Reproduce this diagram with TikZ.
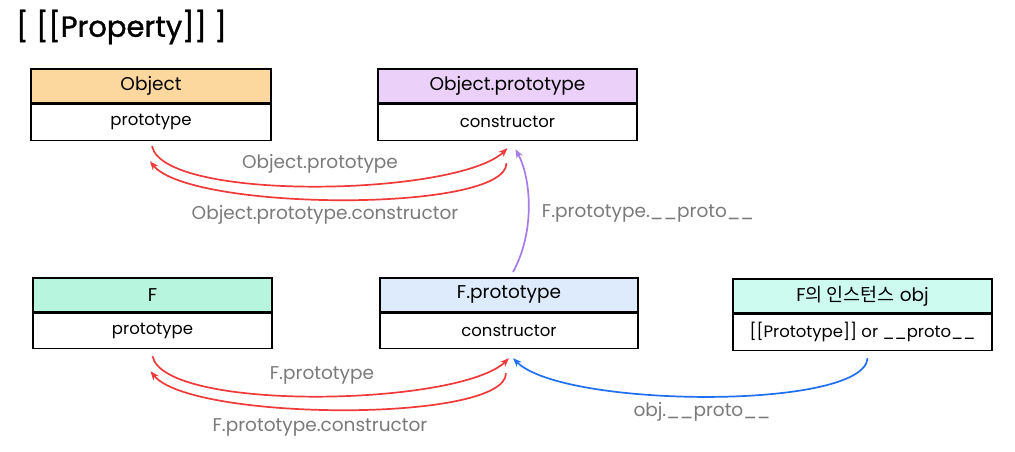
\documentclass[tikz,border=0pt]{standalone}
\usepackage{fontspec}
\setmainfont{Poppins}
\newfontfamily\kr{Noto Sans CJK KR}
\newfontfamily\titlefont[FakeBold=1.2]{Poppins}
\usetikzlibrary{arrows.meta,calc}
\definecolor{cobj}{HTML}{FDD89E}
\definecolor{cop}{HTML}{EBD0FA}
\definecolor{cf}{HTML}{B8F5DE}
\definecolor{cfp}{HTML}{DDEBFD}
\definecolor{cinst}{HTML}{CDFBF0}
\definecolor{cred}{HTML}{F03A3A}
\definecolor{cpur}{HTML}{A77BE8}
\definecolor{cblue}{HTML}{1F6FF0}
\definecolor{cgray}{HTML}{7A7A7A}
\begin{document}
\begin{tikzpicture}[x=1pt,y=-1pt,
  hdr/.style={draw=black,line width=1.6pt,minimum height=34pt,inner sep=0pt,font=\fontsize{18.5}{20}\selectfont,anchor=north},
  bdy/.style={draw=black,line width=1.6pt,fill=white,minimum height=36pt,inner sep=0pt,font=\fontsize{16.5}{18}\selectfont,anchor=north},
  lbl/.style={text=cgray,font=\fontsize{18.5}{20}\selectfont,inner sep=0pt},
  arr/.style={line width=1.7pt,-{Stealth[length=9pt,width=7pt]}}]
\useasboundingbox (0,0) rectangle (1015,451);
\node[inner sep=0pt,font=\titlefont\fontsize{29}{32}\selectfont,anchor=west] (title) at (16,27) {[ [[Property]] ]};
% Object
\node[hdr,fill=cobj,minimum width=240pt] (objh) at (151,68) {Object};
\node[bdy,minimum width=240pt] (objb) at (objh.south) {prototype};
% Object.prototype
\node[hdr,fill=cop,minimum width=259pt] (oph) at (507.5,68) {Object.prototype};
\node[bdy,minimum width=259pt] (opb) at (oph.south) {constructor};
% F
\node[hdr,fill=cf,minimum width=239pt] (fh) at (152.5,277) {F};
\node[bdy,minimum width=239pt,minimum height=35pt] (fb) at (fh.south) {prototype};
% F.prototype
\node[hdr,fill=cfp,minimum width=258pt] (fph) at (509,277) {F.prototype};
\node[bdy,minimum width=258pt,minimum height=35pt] (fpb) at (fph.south) {constructor};
% instance
\node[hdr,fill=cinst,minimum width=259pt] (ih) at (862.5,278) {F{\kr 의 인스턴스} obj};
\node[bdy,minimum width=259pt] (ib) at (ih.south) {[[Prototype]] or \_\_proto\_\_};
% top arcs
\coordinate (a1s) at ($(objb.south)+(1,5)$);
\coordinate (a1e) at ($(opb.south)+(0,7)$);
\coordinate (a2s) at ($(opb.south)+(-1,22)$);
\coordinate (a2e) at ($(objb.south)+(-1,20)$);
\draw[arr,cred] (a1s) .. controls ($(a1s)+(12,56)$) and ($(a1e)+(-50,48)$) .. (a1e);
\draw[arr,cred] (a2s) .. controls ($(a2s)+(0,50)$) and ($(a2e)+(40,50)$) .. (a2e);
\node[lbl] (l1) at (320,164) {Object.prototype};
\node[lbl] (l2) at (325,215) {Object.prototype.constructor};
% purple
\coordinate (ps) at ($(fph.north)+(4,-5)$);
\coordinate (pe) at ($(opb.south)+(8,8)$);
\draw[arr,cpur] (ps) .. controls ($(ps)+(22,-40)$) and ($(pe)+(16,30)$) .. (pe);
\node[lbl] (l3) at (648,213) {F.prototype.\_\_proto\_\_};
% bottom arcs
\coordinate (b1s) at ($(fb.south)+(0,7)$);
\coordinate (b1e) at ($(fpb.south)+(0,9)$);
\coordinate (b2s) at ($(fpb.south)+(-3,24)$);
\coordinate (b2e) at ($(fb.south)+(-2,22)$);
\draw[arr,cred] (b1s) .. controls ($(b1s)+(12,56)$) and ($(b1e)+(-50,48)$) .. (b1e);
\draw[arr,cred] (b2s) .. controls ($(b2s)+(0,50)$) and ($(b2e)+(40,50)$) .. (b2e);
\node[lbl] (l4) at (322,375) {F.prototype};
\node[lbl] (l5) at (320,427) {F.prototype.constructor};
% blue
\coordinate (cs) at ($(ib.south)+(5,7)$);
\coordinate (ce) at ($(fpb.south)+(4,9)$);
\draw[arr,cblue] (cs) .. controls ($(cs)+(-3,52)$) and ($(ce)+(50,50)$) .. (ce);
\node[lbl] (l6) at (702,412) {obj.\_\_proto\_\_};
\end{tikzpicture}
\end{document}
